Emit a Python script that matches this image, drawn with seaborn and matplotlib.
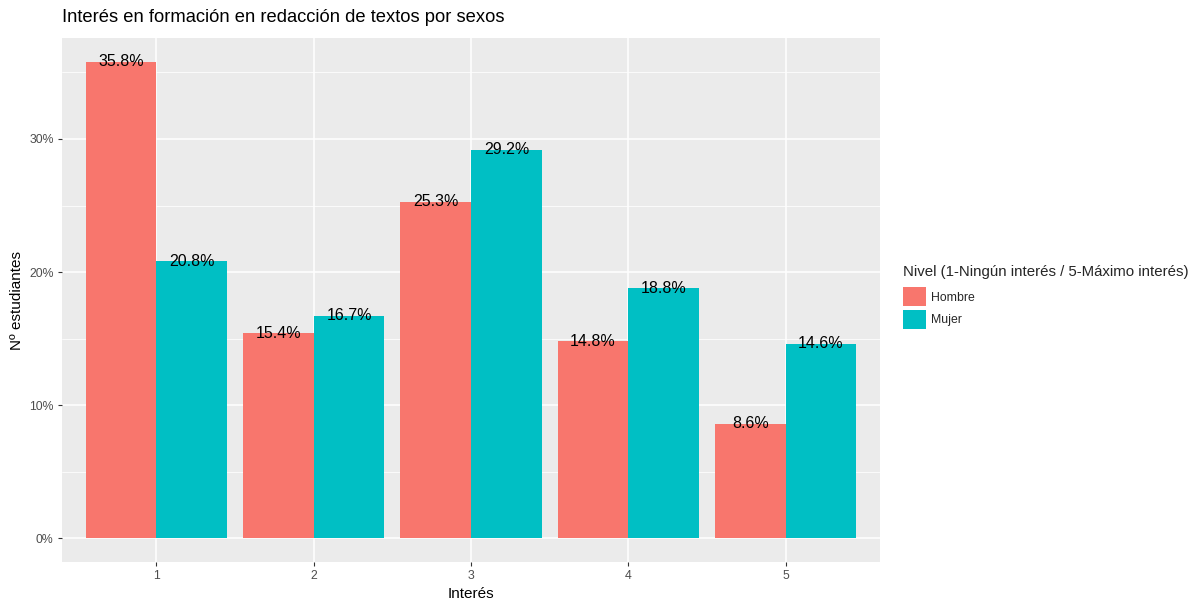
import matplotlib
matplotlib.use("Agg")
import matplotlib.pyplot as plt
import seaborn as sns
import pandas as pd
from matplotlib.patches import Patch

categories = ["1", "2", "3", "4", "5"]
hombre = [35.8, 15.4, 25.3, 14.8, 8.6]
mujer = [20.8, 16.7, 29.2, 18.8, 14.6]
series = ["Hombre", "Mujer"]
colors = {"Hombre": "#F8766D", "Mujer": "#00BFC4"}

df = pd.DataFrame({
    "Interés": categories * 2,
    "valor": hombre + mujer,
    "Sexo": ["Hombre"] * len(categories) + ["Mujer"] * len(categories),
})

sns.set_theme(style="darkgrid")
plt.rcParams['font.family'] = ['Liberation Sans', 'DejaVu Sans']

fig = plt.figure(figsize=(12.02, 6.06), dpi=100)
ax = fig.add_axes([62/1202, 44/606, (880-62)/1202, (562-38)/606])
ax.set_facecolor("#EBEBEB")

sns.barplot(data=df, x="Interés", y="valor", hue="Sexo", palette=colors,
            order=categories, hue_order=series, width=0.9, dodge=True,
            saturation=1, ax=ax, legend=False, linewidth=0, errorbar=None)

for cont in ax.containers:
    for bar in cont:
        h = bar.get_height()
        ax.text(bar.get_x() + bar.get_width()/2, h, f"{h:.1f}%",
                ha="center", va="center", fontsize=11.5, color="black")

ax.set_xlim(-0.6, 4.6)
ax.set_ylim(-1.79, 37.59)
ax.set_yticks([0, 10, 20, 30])
ax.set_yticklabels(["0%", "10%", "20%", "30%"])
ax.set_yticks([5, 15, 25, 35], minor=True)
ax.grid(False)
ax.grid(True, which="major", color="white", linewidth=1.1)
ax.grid(True, which="minor", axis="y", color="white", linewidth=0.55)
ax.set_axisbelow(True)
for s in ax.spines.values():
    s.set_visible(False)
ax.tick_params(axis="both", which="major", length=3, width=0.8, color="#333333",
               labelsize=8.8, labelcolor="#4D4D4D", pad=3, bottom=True, left=True)
ax.tick_params(axis="y", which="minor", length=0, left=False)

ax.set_xlabel("Interés", fontsize=11, color="black", labelpad=3)
ax.set_ylabel("Nº estudiantes", fontsize=11, color="black", labelpad=4)
fig.text(62/1202, 1 - 18/606, "Interés en formación en redacción de textos por sexos",
         fontsize=13.2, ha="left", va="center", color="black")

handles = [Patch(facecolor=colors[s], edgecolor="none", label=s) for s in series]
leg = fig.legend(handles=handles, title="Nivel (1-Ningún interés / 5-Máximo interés)",
                 loc="upper left", bbox_to_anchor=(903/1202, 1 - 265/606),
                 frameon=False, fontsize=8.8, title_fontsize=10.8,
                 handlelength=1.85, handleheight=2.0, handletextpad=0.45,
                 labelspacing=0.3, borderaxespad=0, borderpad=0)
leg._legend_box.align = "left"
leg._legend_box.sep = 6

fig.savefig("out.png", dpi=100, facecolor="white")
